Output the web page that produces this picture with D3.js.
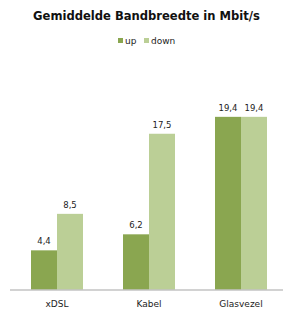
<!DOCTYPE html>
<html>
<head>
<meta charset="utf-8">
<script src="https://cdn.jsdelivr.net/npm/d3@7/dist/d3.min.js"></script>
<style>
  html, body { margin: 0; padding: 0; background: #fff; }
  svg { display: block; }
</style>
</head>
<body>
<svg id="chart" width="284" height="312"></svg>
<script>
const title = "Gemiddelde Bandbreedte in Mbit/s";
const categories = ["xDSL", "Kabel", "Glasvezel"];
const seriesNames = ["up", "down"];
const upValues = [4.4, 6.2, 19.4];
const downValues = [8.5, 17.5, 19.4];
const colors = ["#8aa650", "#bbcf96"];

const svg = d3.select("#chart");
const W = 284, H = 312;
const baseY = 289.5;

const x0 = d3.scaleBand().domain(categories).range([11, 287])
  .paddingInner(0.4348).paddingOuter(0.2174);
const x1 = d3.scaleBand().domain(seriesNames).range([0, x0.bandwidth()]).padding(0);
const y = d3.scaleLinear().domain([0, 20]).range([baseY, baseY - 178]);

const data = categories.map((c, i) => ({
  cat: c,
  vals: [{ s: "up", v: upValues[i] }, { s: "down", v: downValues[i] }]
}));

const fmt = v => d3.format(".1f")(v).replace(".", ",");

const groups = svg.append("g").selectAll("g").data(data).join("g")
  .attr("transform", d => `translate(${x0(d.cat)},0)`);

groups.selectAll("rect").data(d => d.vals).join("rect")
  .attr("x", d => x1(d.s))
  .attr("y", d => y(d.v))
  .attr("width", x1.bandwidth())
  .attr("height", d => y(0) - y(d.v))
  .attr("fill", d => colors[seriesNames.indexOf(d.s)]);

groups.selectAll("text").data(d => d.vals).join("text")
  .attr("x", d => x1(d.s) + x1.bandwidth() / 2)
  .attr("y", d => y(d.v) - 6)
  .attr("text-anchor", "middle")
  .attr("font-family", "DejaVu Sans")
  .attr("font-size", "8.5px")
  .attr("fill", "#222")
  .text(d => fmt(d.v));

// baseline axis
const xAxis = d3.axisBottom(x0).tickSize(0).tickPadding(11);
const ax = svg.append("g").attr("transform", `translate(0,${baseY})`).call(xAxis);
ax.select(".domain").remove();
ax.selectAll("text")
  .attr("font-family", "DejaVu Sans")
  .attr("font-size", "9px")
  .attr("fill", "#222");
svg.append("line")
  .attr("x1", 10).attr("x2", 283)
  .attr("y1", baseY + 0.5).attr("y2", baseY + 0.5)
  .attr("stroke", "#a6a6a6").attr("stroke-width", 1.2);

// title
const t = svg.append("text")
  .attr("x", 146.5).attr("y", 20)
  .attr("text-anchor", "middle")
  .attr("font-family", "DejaVu Sans")
  .attr("font-weight", "bold")
  .attr("font-size", "12px")
  .attr("fill", "#111")
  .text(title);
const tw = t.node().getComputedTextLength();
t.attr("font-size", (12 * 227 / tw).toFixed(2) + "px");

// legend
const leg = svg.append("g").attr("transform", "translate(118,0)");
const legItems = [{ s: "up", x: 0 }, { s: "down", x: 26 }];
legItems.forEach((it, i) => {
  leg.append("rect").attr("x", it.x).attr("y", 38).attr("width", 5).attr("height", 5)
    .attr("fill", colors[i]);
  leg.append("text").attr("x", it.x + 7).attr("y", 44)
    .attr("font-family", "DejaVu Sans").attr("font-size", "9px").attr("fill", "#222")
    .text(it.s);
});
</script>
</body>
</html>
